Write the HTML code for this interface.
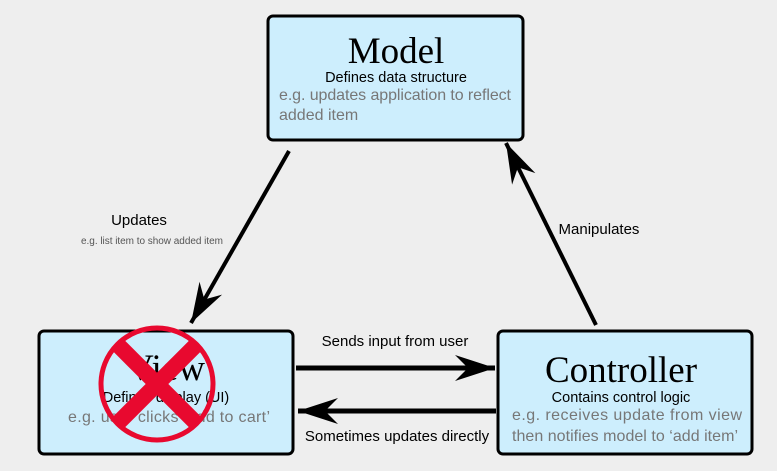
<!DOCTYPE html>
<html><head><style>
html,body{margin:0;padding:0;background:#eeeeee;}
svg{display:block;}
</style></head><body>
<svg width="777" height="471" viewBox="0 0 777 471" xmlns="http://www.w3.org/2000/svg">
<defs>
<marker id="ah" markerUnits="userSpaceOnUse" markerWidth="50" markerHeight="30" viewBox="-40 -15 42 30" refX="0" refY="0" orient="auto">
<path d="M0,0 L-40,-13 L-27,0 L-40,13 Z" fill="#000"/>
</marker>
</defs>
<rect width="777" height="471" fill="#eeeeee"/>
<g stroke="#000" stroke-width="3" fill="#cdeefd">
<rect x="268" y="16" width="255" height="124" rx="5"/>
<rect x="39" y="331" width="254" height="123" rx="5"/>
<rect x="498" y="331" width="254" height="123" rx="5"/>
</g>
<g stroke="#000" stroke-width="4" fill="none" marker-end="url(#ah)">
<line x1="289" y1="151" x2="191" y2="323"/>
<line x1="596" y1="325" x2="506" y2="143"/>
</g>
<g stroke="#000" stroke-width="5" fill="none" marker-end="url(#ah)">
<line x1="296" y1="368" x2="495" y2="368"/>
<line x1="496" y1="411" x2="298" y2="411"/>
</g>
<g font-family="Liberation Serif, serif" fill="#000" text-anchor="middle">
<text x="396" y="63" font-size="37">Model</text>
<text x="166" y="380" font-size="37">View</text>
<text x="621" y="382" font-size="37">Controller</text>
</g>
<g font-family="Liberation Sans, sans-serif" text-anchor="middle">
<text x="396" y="82" font-size="14.5" fill="#000">Defines data structure</text>
<text x="166" y="402" font-size="14.5" fill="#000">Defines display (UI)</text>
<text x="621" y="402" font-size="14.5" fill="#000">Contains control logic</text>
<text x="139" y="225" font-size="15" fill="#000">Updates</text>
<text x="152" y="244" font-size="10" fill="#555" textLength="142">e.g. list item to show added item</text>
<text x="599" y="234" font-size="15" fill="#000">Manipulates</text>
<text x="395" y="346" font-size="15" fill="#000">Sends input from user</text>
<text x="397" y="441" font-size="15" fill="#000">Sometimes updates directly</text>
</g>
<g font-family="Liberation Sans, sans-serif" font-size="16" fill="#777">
<text x="279" y="100" textLength="232">e.g. updates application to reflect</text>
<text x="279" y="120">added item</text>
<text x="68" y="422" textLength="202">e.g. user clicks ‘add to cart’</text>
<text x="512" y="420" textLength="230">e.g. receives update from view</text>
<text x="512" y="441" textLength="226">then notifies model to ‘add item’</text>
</g>
<g>
<circle cx="157" cy="384" r="56" fill="none" stroke="#e8092f" stroke-width="5"/>
<line x1="118" y1="345" x2="196" y2="423" stroke="#e8092f" stroke-width="16"/>
<line x1="196" y1="345" x2="118" y2="423" stroke="#e8092f" stroke-width="16"/>
</g>
</svg>
</body></html>
